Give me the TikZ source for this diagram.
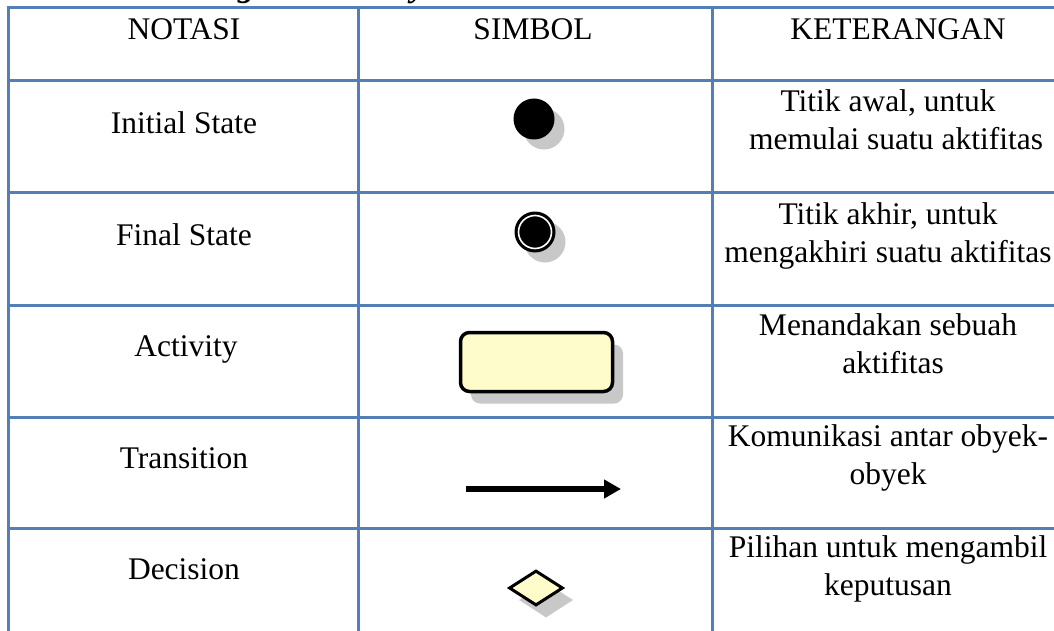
\documentclass[tikz,border=0pt]{standalone}
\usepackage{fontspec}
\setmainfont{Liberation Serif}
\usetikzlibrary{shapes.geometric,arrows.meta}
\definecolor{tline}{RGB}{84,126,182}
\definecolor{actfill}{RGB}{255,252,204}
\definecolor{shadowgray}{RGB}{200,200,200}
\tikzset{
  body/.style={inner sep=0pt, anchor=base, font=\fontsize{31.5}{38}\selectfont},
  gridline/.style={draw=tline, line width=3pt},
  dotshape/.style={circle, inner sep=0pt, minimum size=41pt},
  actshape/.style={rectangle, rounded corners=9pt, inner sep=0pt, minimum width=152pt, minimum height=59pt},
  decshape/.style={diamond, inner sep=0pt, minimum width=54pt, minimum height=35pt},
  symline/.style={draw=black, line width=3.5pt},
}
\newcommand{\twolines}[2]{\begin{tabular}[t]{@{}c@{}}#1\\#2\end{tabular}}
\begin{document}
\begin{tikzpicture}[x=1pt,y=-1pt]
\useasboundingbox (0,0) rectangle (1054,631);
\clip (0,0) rectangle (1054,631);
\fill[white] (0,0) rectangle (1054,631);
% title (cut off at the top)
\node[anchor=base west, inner sep=0pt, font=\fontsize{34}{40}\selectfont\bfseries\itshape] (title) at (187,-3.5) {Diagram Activity};
% grid
\foreach \y in {8,81,193,305,417,528} \draw[gridline] (6.5,\y) -- (1060,\y);
\foreach \x in {8,358,712} \draw[gridline] (\x,6.5) -- (\x,640);
% header
\node[body] (h1) at (184,40) {NOTASI};
\node[body] (h2) at (533,40) {SIMBOL};
\node[body] (h3) at (898,40) {KETERANGAN};
% left column
\node[body] (n1) at (184,134) {Initial State};
\node[body] (n2) at (184,245) {Final State};
\node[body] (n3) at (186,356) {Activity};
\node[body] (n4) at (184,468) {Transition};
\node[body] (n5) at (184,579) {Decision};
% right column
\def\arraystretch{1}
\node[body] (k1) at (888,112) {\twolines{Titik awal, untuk}{\hspace{16pt}memulai suatu aktifitas}};
\node[body] (k2) at (888,224) {\twolines{Titik akhir, untuk}{mengakhiri suatu aktifitas}};
\node[body] (k3) at (888,335) {\twolines{Menandakan sebuah}{\hspace{10pt}aktifitas}};
\node[body] (k4) at (888,446) {\twolines{Komunikasi antar obyek-}{obyek}};
\node[body] (k5) at (888,557) {\twolines{Pilihan untuk mengambil}{keputusan}};
% initial state
\node[dotshape, fill=shadowgray] (initsh) at (544,129) {};
\node[dotshape, fill=black] (init) at (534,119) {};
% final state
\node[dotshape, fill=shadowgray] (finsh) at (545,242) {};
\node[dotshape, fill=black] (fin) at (535,232) {};
\node[circle, inner sep=0pt, minimum size=33pt, draw=white, line width=1.6pt] (finring) at (fin) {};
% activity
\node[actshape, fill=shadowgray] (actsh) at (547,374) {};
\node[actshape, symline, fill=actfill] (act) at (536.5,362) {};
% transition
\coordinate (t1) at (466,489);
\coordinate (t2) at (621,489);
\draw[line width=5.5pt, -{Triangle[length=17pt,width=18pt]}] (t1) -- (t2);
% decision
\node[decshape, fill=shadowgray] (decsh) at (546,600) {};
\node[decshape, draw=black, line width=3pt, fill=actfill] (dec) at (536,588) {};
\end{tikzpicture}
\end{document}
